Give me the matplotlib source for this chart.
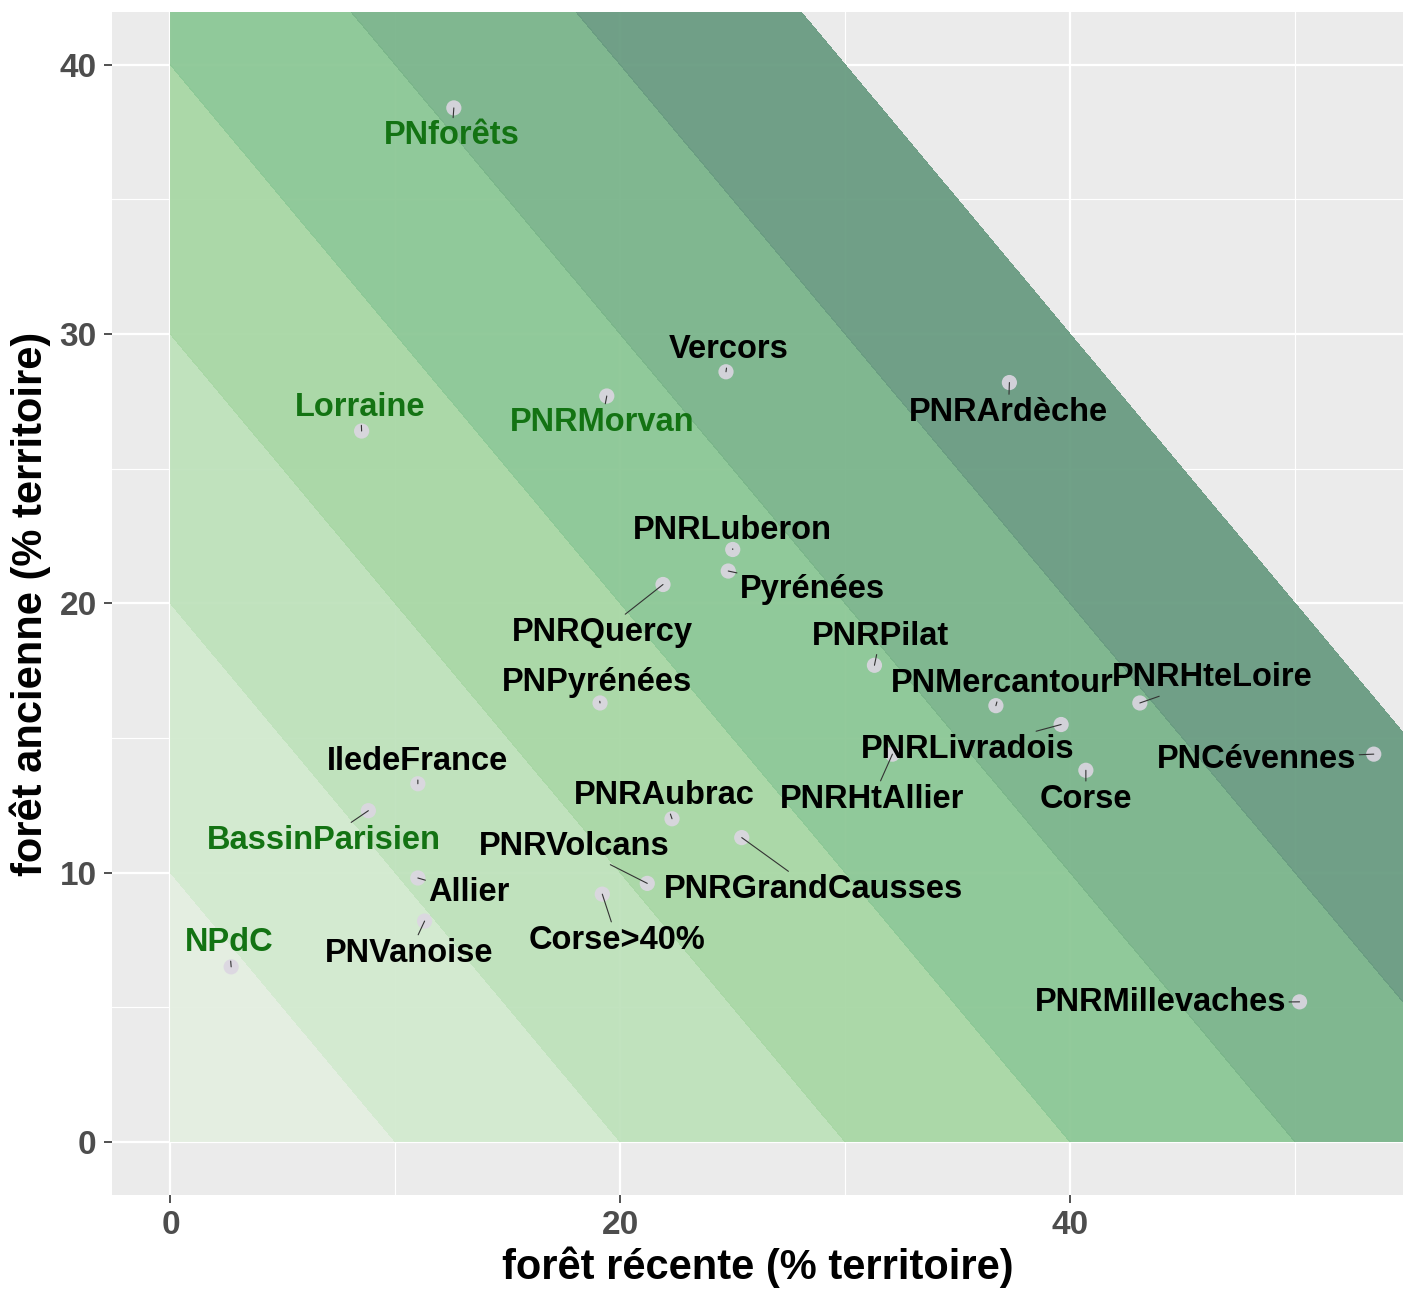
import numpy as np
import matplotlib
matplotlib.use('Agg')
import matplotlib.pyplot as plt

plt.rcParams['font.family'] = ['Liberation Sans', 'DejaVu Sans']
plt.rcParams['font.weight'] = 'bold'

# territoires : forêt récente (x) et forêt ancienne (y), en % du territoire
territoires = ['PNforêts', 'Lorraine', 'PNRMorvan', 'Vercors', 'PNRArdèche',
               'PNRLuberon', 'Pyrénées', 'PNRQuercy', 'PNRPilat', 'PNPyrénées',
               'PNMercantour', 'PNRHteLoire', 'PNRLivradois', 'PNCévennes', 'Corse',
               'PNRHtAllier', 'IledeFrance', 'PNRAubrac', 'BassinParisien', 'PNRVolcans',
               'PNRGrandCausses', 'Allier', 'Corse>40%', 'PNVanoise', 'NPdC',
               'PNRMillevaches']
foret_recente = [12.6, 8.5, 19.4, 24.7, 37.3,
                 25.0, 24.8, 21.9, 31.3, 19.1,
                 36.7, 43.1, 39.6, 53.5, 40.7,
                 32.1, 11.0, 22.3, 8.8, 21.2,
                 25.4, 11.0, 19.2, 11.3, 2.7,
                 50.2]
foret_ancienne = [38.4, 26.4, 27.7, 28.6, 28.2,
                  22.0, 21.2, 20.7, 17.7, 16.3,
                  16.2, 16.3, 15.5, 14.4, 13.8,
                  14.4, 13.3, 12.0, 12.3, 9.6,
                  11.3, 9.8, 9.2, 8.2, 6.5,
                  5.2]
# territoires de référence (étiquettes en vert)
reference = ['PNforêts', 'Lorraine', 'PNRMorvan', 'BassinParisien', 'NPdC']

# classes de forêt totale (x + y)
niveaux = [0, 10, 20, 30, 40, 50, 60, 70]
couleurs = ['#e4efe1', '#d2eacf', '#bee2bb', '#a7d7a4', '#8bc795', '#79b48a', '#689b81']

# décalage des étiquettes (pixels) -- placement à la ggrepel
dx = [-2, -1, -5, 3, -1,
      0, 84, -61, 6, -3,
      6, 72, -93, -117, 0,
      -20, 0, -8, -44, -73,
      72, 51, 15, -15, -2,
      -139]
dy = [-28, 24, -26, 22, -30,
      19, -18, -48, 29, 20,
      22, 25, -25, -5, -29,
      -45, 22, 23, -30, 37,
      -52, -15, -46, -32, 24,
      -1]

fig = plt.figure(figsize=(14.03, 12.96), dpi=100)
ax = fig.add_axes([0.0798, 0.078, 0.9202, 0.9127])
ax.set_facecolor('#ebebeb')

xx, yy = np.meshgrid(np.linspace(0, 70, 300), np.linspace(0, 70, 300))
ax.contourf(xx, yy, xx + yy, levels=niveaux, colors=couleurs, alpha=0.94, zorder=2)

ax.scatter(foret_recente, foret_ancienne, s=120, color='#dcd6e2', alpha=0.9,
           edgecolors='none', zorder=3)

for i, nom in enumerate(territoires):
    col = '#137313' if nom in reference else 'black'
    ax.annotate(nom, (foret_recente[i], foret_ancienne[i]),
                xytext=(dx[i], dy[i]), textcoords='offset pixels',
                ha='center', va='center', fontsize=23.5, fontweight='bold', color=col,
                arrowprops=dict(arrowstyle='-', color='#333333', lw=0.8,
                                shrinkA=0, shrinkB=0),
                zorder=4)

ax.set_xlim(-2.6, 54.8)
ax.set_ylim(-1.97, 41.96)
ax.set_xticks([0, 20, 40])
ax.set_yticks([0, 10, 20, 30, 40])
ax.set_xticks([10, 30, 50], minor=True)
ax.set_yticks([5, 15, 25, 35], minor=True)
ax.grid(which='major', color='white', lw=1.6)
ax.grid(which='minor', color='white', lw=0.8)
ax.set_axisbelow(True)
ax.tick_params(which='major', length=6, width=1.2, color='#333333',
               labelsize=24, labelcolor='#4d4d4d', pad=5)
ax.tick_params(which='minor', length=0)
for lab in ax.get_xticklabels() + ax.get_yticklabels():
    lab.set_fontweight('bold')
for s in ax.spines.values():
    s.set_visible(False)

ax.set_xlabel('forêt récente (% territoire)', fontsize=30, fontweight='bold', labelpad=4)
ax.set_ylabel('forêt ancienne (% territoire)', fontsize=30, fontweight='bold', labelpad=6)

fig.savefig('out.png', dpi=100)
